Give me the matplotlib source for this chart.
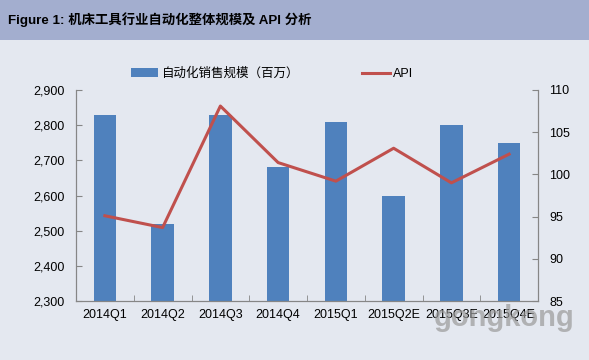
import matplotlib
matplotlib.use('Agg')
import matplotlib.pyplot as plt
import numpy as np
from matplotlib.ticker import FuncFormatter

plt.rcParams['font.family'] = ['Liberation Sans', 'Noto Sans CJK SC', 'DejaVu Sans']

quarters = ['2014Q1', '2014Q2', '2014Q3', '2014Q4', '2015Q1', '2015Q2E', '2015Q3E', '2015Q4E']
sales = [2830, 2520, 2830, 2680, 2810, 2600, 2800, 2750]
api = [95.1, 93.7, 108.1, 101.4, 99.2, 103.1, 99.0, 102.4]

bar_color = '#4F81BD'
line_color = '#C0504D'
axis_color = '#868686'

fig = plt.figure(figsize=(5.89, 3.6), dpi=100)
fig.patch.set_facecolor('#E4E8F0')

# title band
band = fig.add_axes([0, 1 - 40 / 360, 1, 40 / 360])
band.set_facecolor('#A3AECF')
band.set_xticks([])
band.set_yticks([])
for s in band.spines.values():
    s.set_visible(False)
band.text(8 / 589, 0.5, 'Figure 1: 机床工具行业自动化整体规模及 API 分析',
          transform=band.transAxes, va='center', ha='left', fontsize=9.6,
          fontweight='bold', family=['Liberation Sans', 'Noto Sans CJK SC'])

ax = fig.add_axes([76 / 589, 59 / 360, 462 / 589, 211 / 360])
ax.set_facecolor('none')
x = np.arange(len(quarters))
bars = ax.bar(x, sales, width=0.39, color=bar_color, label='自动化销售规模（百万）', zorder=2)
ax.set_ylim(2300, 2900)
ax.set_xlim(-0.5, len(quarters) - 0.5)
ax.set_yticks(range(2300, 2901, 100))
ax.yaxis.set_major_formatter(FuncFormatter(lambda v, p: f'{int(v):,}'))
ax.set_xticks(x)
ax.set_xticklabels(quarters)
ax.set_xticks(np.arange(-0.5, len(quarters), 1), minor=True)
ax.tick_params(axis='x', which='major', length=0, pad=6, labelsize=9)
ax.tick_params(axis='x', which='minor', length=4, direction='in', color=axis_color)
ax.tick_params(axis='y', length=4, direction='in', color=axis_color, labelsize=9, pad=8)
ax.spines['top'].set_visible(False)
for k in ['left', 'bottom', 'right']:
    ax.spines[k].set_color(axis_color)

ax2 = ax.twinx()
line, = ax2.plot(x, api, color=line_color, linewidth=2.2, label='API', zorder=3)
ax2.set_ylim(85, 110)
ax2.set_yticks(range(85, 111, 5))
ax2.tick_params(axis='y', length=4, direction='in', color=axis_color, labelsize=9, pad=8)
ax2.spines['top'].set_visible(False)
for k in ['left', 'bottom', 'right']:
    ax2.spines[k].set_color(axis_color)

fig.legend([bars, line], ['自动化销售规模（百万）', 'API'], loc='center',
           bbox_to_anchor=(0.462, 1 - 74 / 360), ncol=2, frameon=False,
           columnspacing=5, handlelength=2.2, handletextpad=0.3,
           prop={'family': ['Liberation Sans', 'Noto Sans CJK SC'], 'size': 9})

# watermark
fig.text(0.856, 1 - 318 / 360, 'gongkong', ha='center', va='center',
         fontsize=21, fontweight='bold', color='#9A9A9A', alpha=0.7)

fig.savefig('out.png', dpi=100, facecolor=fig.get_facecolor())
